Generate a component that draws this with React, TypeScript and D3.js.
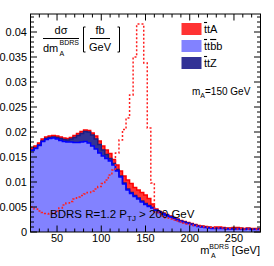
import React from 'react';
import * as d3 from 'd3';

const width = 274,
  height = 266;

// 4 GeV bins from 20 to 280 GeV
const X_MIN = 20, X_MAX = 280, BIN = 4;
const Y_MAX = 0.0436;

const TTBB = [
  0.0163, 0.0167, 0.0173, 0.0181, 0.0185, 0.0187, 0.0188, 0.0186, 0.0183, 0.0181, 0.018, 0.018, 0.0179, 0.0179, 0.018, 0.0181, 0.0178, 0.0172,
  0.0166, 0.0158, 0.0152, 0.0147, 0.0142, 0.0134, 0.0122, 0.011, 0.0096, 0.0084, 0.0077, 0.0071, 0.0066, 0.006, 0.0055, 0.0051, 0.0048,
  0.0043, 0.0039, 0.0036, 0.0033, 0.003, 0.0027, 0.0024, 0.0021, 0.0019, 0.0017, 0.0015, 0.0013, 0.0011, 0.001, 0.0009, 0.0008, 0.0007,
  0.0007, 0.0007, 0.0007, 0.0006, 0.0006, 0.0006, 0.0006, 0.0006, 0.0005, 0.0006, 0.0005, 0.0005, 0.0005,
];
const TTZ = [
  0.0001, 0.0001, 0.0001, 0.0001, 0.0002, 0.0002, 0.0002, 0.0003, 0.0004, 0.0004, 0.0004, 0.0006, 0.001, 0.0014, 0.0017, 0.002, 0.0022, 0.0022,
  0.002, 0.0017, 0.0012, 0.0008, 0.0005, 0.0003, 0.0003, 0.0002, 0.0002, 0.0002, 0.0002, 0.0002, 0.0002, 0.0002, 0.0002, 0.0002, 0.0001,
  0.0001, 0.0001, 0.0001, 0.0001, 0.0001, 0.0001, 0.0001, 0.0001, 0.0001, 0.0001, 0.0001, 0.0001, 0.0001, 0.0001, 0.0001, 0.0001, 0.0001,
  0.0001, 0.0001, 0.0001, 0.0001, 0.0001, 0.0001, 0.0001, 0.0001, 0.0001, 0.0001, 0.0001, 0.0001, 0.0001,
];
const TTA = [
  0.0004, 0.0004, 0.0004, 0.0004, 0.0003, 0.0003, 0.0003, 0.0003, 0.0003, 0.0003, 0.0003, 0.0003, 0.0004, 0.0004, 0.0004, 0.0003, 0.0003, 0.0004,
  0.0006, 0.0007, 0.0008, 0.0009, 0.001, 0.0008, 0.0009, 0.001, 0.0014, 0.0018, 0.0018, 0.0016, 0.0016, 0.0017, 0.0017, 0.0014, 0.0007,
  0.0002, 0.0001, 0.0001, 0.0001, 0.0001, 0.0001, 0.0001, 0.0001, 0.0001, 0.0001, 0.0001, 0.0001, 0.0001, 0.0001, 0.0001, 0.0001, 0.0001,
  0.0002, 0.0002, 0.0001, 0.0001, 0.0001, 0.0002, 0.0002, 0.0001, 0.0001, 0.0001, 0.0001, 0.0001, 0.0001,
];
// signal, mA = 150 GeV (dashed)
const SIGNAL = [
  0.005, 0.0046, 0.0042, 0.0039, 0.0037, 0.0036, 0.0038, 0.0042, 0.0048, 0.0054, 0.0058, 0.0061, 0.0066, 0.007, 0.0073, 0.0076, 0.0079, 0.0082,
  0.0086, 0.0091, 0.0097, 0.0104, 0.0114, 0.0124, 0.0158, 0.0184, 0.0205, 0.0228, 0.0274, 0.035, 0.0416, 0.0416, 0.0338, 0.0208, 0.0098,
  0.004, 0.0036, 0.0032, 0.0028, 0.0026, 0.0024, 0.0022, 0.002, 0.0018, 0.0016, 0.0014, 0.0013, 0.0012, 0.0011, 0.001, 0.0009, 0.0009,
  0.0008, 0.0008, 0.0008, 0.0007, 0.0007, 0.0007, 0.0006, 0.0007, 0.0006, 0.0006, 0.0006, 0.0006, 0.0005,
];

const X_TICKS = [50, 100, 150, 200, 250];
const Y_TICKS = [0, 0.005, 0.01, 0.015, 0.02, 0.025, 0.03, 0.035, 0.04];

const FONT = 'Liberation Sans, Arial, Helvetica, sans-serif';
const COLORS = { ttA: '#ff3333', ttbb: '#8282ff', ttZ: '#323296' };
const LINES = { ttA: '#ff0000', ttbb: '#0000ff', ttZ: '#1c1c80' };

const x = d3.scaleLinear().domain([X_MIN, X_MAX]).range([30.5, 260.5]);
const y = d3.scaleLinear().domain([0, Y_MAX]).range([232, 14]);

export default function App() {
  const rows = TTBB.map((v, i) => ({ lo: X_MIN + i * BIN, ttbb: v, ttZ: TTZ[i], ttA: TTA[i] }));
  const series = d3.stack<any>().keys(['ttbb', 'ttZ', 'ttA'])(rows);

  const withEnd = (pts: { x: number; y0: number; y1: number }[]) => {
    const last = pts[pts.length - 1];
    return [...pts, { x: X_MAX, y0: last.y0, y1: last.y1 }];
  };

  const area = d3.area<any>()
    .x((d) => x(d.x))
    .y0((d) => y(d.y0))
    .y1((d) => y(d.y1))
    .curve(d3.curveStepAfter);
  const line = d3.line<any>()
    .x((d) => x(d.x))
    .y((d) => y(d.y1))
    .curve(d3.curveStepAfter);

  const stacked = series.map((s) => ({
    key: s.key as 'ttbb' | 'ttZ' | 'ttA',
    pts: withEnd(s.map((d: any, i: number) => ({ x: rows[i].lo, y0: 0, y1: d[1] }))),
  }));
  const sigPts = withEnd(SIGNAL.map((v, i) => ({ x: X_MIN + i * BIN, y0: 0, y1: v })));

  const [x0, x1] = x.range();
  const [yb, yt] = y.range();
  const xMinor = d3.range(X_MIN, X_MAX + 0.1, 10);
  const yMinor = d3.range(0, Y_MAX, 0.001);

  const legend = [
    { key: 'ttA', label: [['t', true], ['tA', false]] },
    { key: 'ttbb', label: [['t', true], ['t', false], ['b', true], ['b', false]] },
    { key: 'ttZ', label: [['t', true], ['tZ', false]] },
  ] as const;

  return (
    <svg width={width} height={height} style={{ position: 'absolute', left: 0, top: 0, background: '#fff' }}
      fontFamily={FONT}>
      {/* stack: draw top sums first */}
      {[...stacked].reverse().map((s) => (
        <path key={s.key} d={area(s.pts) || ''} fill={COLORS[s.key]} />
      ))}
      {[...stacked].reverse().map((s) => (
        <path key={'l' + s.key} d={line(s.pts) || ''} fill="none" stroke={LINES[s.key]} strokeWidth={1.5} />
      ))}
      <path d={line(sigPts) || ''} fill="none" stroke="#ff2020" strokeWidth={1.5} strokeDasharray="2 2" />

      {/* frame + ticks */}
      <rect x={x0} y={yt} width={x1 - x0} height={yb - yt} fill="none" stroke="#000" strokeWidth={1} />
      {xMinor.map((v) => {
        const major = v % 50 === 0;
        const l = major ? 6.5 : 3.5;
        return (
          <g key={'xt' + v} stroke="#000" strokeWidth={1}>
            <line x1={x(v)} x2={x(v)} y1={yb} y2={yb - l} />
            <line x1={x(v)} x2={x(v)} y1={yt} y2={yt + l} />
          </g>
        );
      })}
      {yMinor.map((v, i) => {
        const major = i % 5 === 0;
        const l = major ? 6.5 : 3.5;
        return (
          <g key={'yt' + i} stroke="#000" strokeWidth={1}>
            <line x1={x0} x2={x0 + l} y1={y(v)} y2={y(v)} />
            <line x1={x1} x2={x1 - l} y1={y(v)} y2={y(v)} />
          </g>
        );
      })}
      {Y_TICKS.map((v) => (
        <text key={'yl' + v} x={27} y={y(v)} dy="0.36em" textAnchor="end" fontSize={11}>
          {v === 0 ? '0' : String(+v.toFixed(3))}
        </text>
      ))}
      {X_TICKS.map((v) => (
        <text key={'xl' + v} x={x(v)} y={242} textAnchor="middle" fontSize={11}>{v}</text>
      ))}

      {/* x axis title */}
      <text x={260} y={254} textAnchor="end" fontSize={11}>
        m<tspan fontSize={7} dy={-5}>BDRS</tspan>
        <tspan dy={5}> [GeV]</tspan>
      </text>
      <text x={211} y={258} fontSize={7}>A</text>

      {/* y axis title */}
      <g fontSize={11}>
        <text x={61} y={34} textAnchor="middle">dσ</text>
        <line x1={43} x2={79} y1={38.5} y2={38.5} stroke="#000" strokeWidth={1} />
        <text x={43} y={52}>dm</text>
        <text x={59.5} y={45} fontSize={7}>BDRS</text>
        <text x={59.5} y={56} fontSize={7}>A</text>
        <path d="M85.5,27 h-2 v25 h2" fill="none" stroke="#000" strokeWidth={1} />
        <text x={100} y={34} textAnchor="middle">fb</text>
        <line x1={90} x2={110} y1={38.5} y2={38.5} stroke="#000" strokeWidth={1} />
        <text x={100} y={51} textAnchor="middle">GeV</text>
        <path d="M117.5,27 h2 v25 h-2" fill="none" stroke="#000" strokeWidth={1} />
      </g>

      {/* legend */}
      {legend.map((d, i) => {
        const cy = 29 + i * 17;
        return (
          <g key={d.key}>
            <rect x={181.5} y={cy - 6} width={20} height={12} fill={COLORS[d.key]} />
            <text x={204} y={cy} dy="0.36em" fontSize={11}>
              {d.label.map(([t, bar], j) => (
                <tspan key={j} style={{ textDecoration: bar ? 'overline' : 'none' }}>{t}</tspan>
              ))}
            </text>
          </g>
        );
      })}

      <text x={192} y={95} fontSize={10}>
        m<tspan fontSize={7} dy={2.5}>A</tspan><tspan dy={-2.5}>=150 GeV</tspan>
      </text>

      <text x={50} y={218} fontSize={11.5}>
        BDRS R=1.2 P<tspan fontSize={8} dy={3}>TJ</tspan><tspan dy={-3}> &gt; 200 GeV</tspan>
      </text>
    </svg>
  );
}
